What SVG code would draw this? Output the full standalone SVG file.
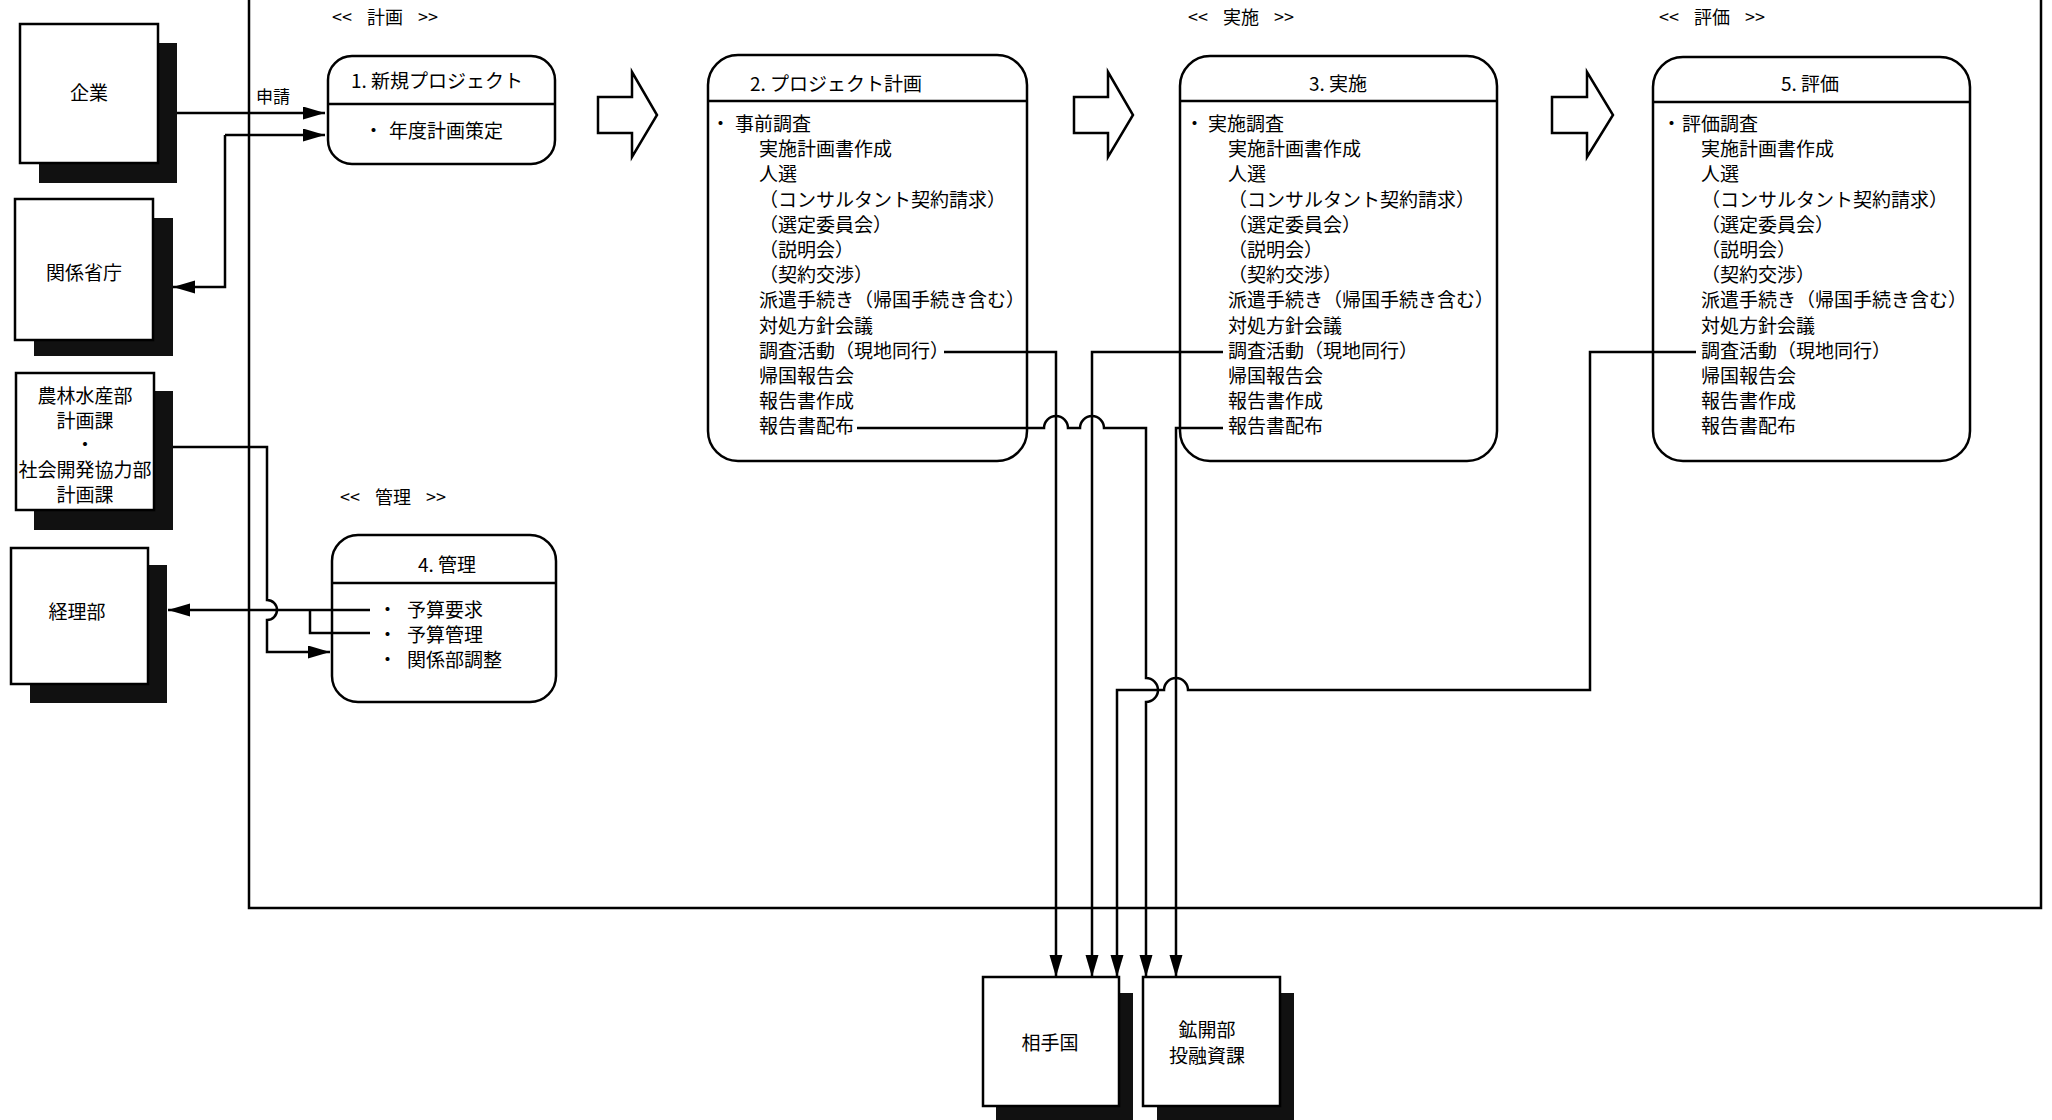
<svg xmlns="http://www.w3.org/2000/svg" width="2052" height="1120" viewBox="0 0 2052 1120">
<defs>
<style>
.t{font-family:"Noto Sans CJK JP","Noto Sans CJK SC",sans-serif;font-size:19px;fill:#000}
.h{font-family:"Noto Sans CJK JP","Noto Sans CJK SC",sans-serif;font-size:18px;fill:#000;word-spacing:11px}
.m{text-anchor:middle}
.box{fill:#fff;stroke:#000;stroke-width:2.5}
.sh{fill:#111}
.ln{fill:none;stroke:#000;stroke-width:2.5}
.arr{marker-end:url(#ah)}
.blk{fill:#fff;stroke:#000;stroke-width:2.5;stroke-linejoin:miter}
</style>
<marker id="ah" markerUnits="userSpaceOnUse" markerWidth="24" markerHeight="14" refX="22" refY="6.5" orient="auto">
<path d="M0,0 L22,6.5 L0,13 z" fill="#000"/>
</marker>
</defs>
<rect width="2052" height="1120" fill="#fff"/>

<!-- frame -->
<path class="ln" d="M249,0 V908 H2041 V0" stroke-width="3"/>

<!-- headers -->
<text class="h" x="332" y="24">&lt;&lt; 計画 &gt;&gt;</text>
<text class="h" x="1188" y="24">&lt;&lt; 実施 &gt;&gt;</text>
<text class="h" x="1659" y="24">&lt;&lt; 評価 &gt;&gt;</text>
<text class="h" x="340" y="504">&lt;&lt; 管理 &gt;&gt;</text>

<!-- left nodes -->
<g id="kigyo">
<rect class="sh" x="39" y="43" width="138" height="140"/>
<rect class="box" x="20" y="24" width="138" height="139"/>
<text class="t m" x="89" y="100">企業</text>
</g>
<g id="kankei">
<rect class="sh" x="34" y="218" width="139" height="138"/>
<rect class="box" x="15" y="199" width="138" height="141"/>
<text class="t m" x="84" y="280">関係省庁</text>
</g>
<g id="norin">
<rect class="sh" x="34" y="391" width="139" height="139"/>
<rect class="box" x="16" y="373" width="138" height="137"/>
<text class="t m" x="85" y="403">農林水産部</text>
<text class="t m" x="85" y="428">計画課</text>
<text class="t m" x="85" y="452">・</text>
<text class="t m" x="85" y="477">社会開発協力部</text>
<text class="t m" x="85" y="502">計画課</text>
</g>
<g id="keiri">
<rect class="sh" x="30" y="565" width="137" height="138"/>
<rect class="box" x="11" y="548" width="137" height="136"/>
<text class="t m" x="77" y="619">経理部</text>
</g>

<!-- bottom nodes -->
<g id="aitekoku">
<rect class="sh" x="996" y="993" width="137" height="140"/>
<rect class="box" x="983" y="977" width="136" height="129"/>
<text class="t m" x="1050" y="1050">相手国</text>
</g>
<g id="kokaibu">
<rect class="sh" x="1157" y="993" width="137" height="140"/>
<rect class="box" x="1143" y="977" width="137" height="129"/>
<text class="t m" x="1207" y="1037">鉱開部</text>
<text class="t m" x="1207" y="1063">投融資課</text>
</g>

<!-- block arrows -->
<g id="flow-arrows">
<polygon class="blk" points="598,97 632,97 632,72 657,115 632,157 632,133 598,133"/>
<polygon class="blk" points="1074,97 1108,97 1108,72 1133,115 1108,157 1108,133 1074,133"/>
<polygon class="blk" points="1552,97 1587,97 1587,72 1613,115 1587,157 1587,133 1552,133"/>
</g>

<!-- box 1 -->
<g id="box1">
<rect class="box" x="328" y="56" width="227" height="108" rx="24"/>
<line class="ln" x1="328" y1="104" x2="555" y2="104"/>
<text class="t" x="351" y="88">1. 新規プロジェクト</text>
<text class="t"><tspan x="364" y="138">・</tspan><tspan x="389" y="138">年度計画策定</tspan></text>
</g>

<!-- box 2 -->
<g id="box2">
<rect class="box" x="708" y="55" width="319" height="406" rx="30"/>
<line class="ln" x1="708" y1="101" x2="1027" y2="101"/>
<text class="t" x="750" y="91">2. プロジェクト計画</text>
<text class="t"><tspan x="711" y="131">・</tspan><tspan x="735" y="131">事前調査</tspan></text>
<text class="t" x="759" y="156.2">実施計画書作成</text>
<text class="t" x="759" y="181.4">人選</text>
<text class="t" x="759" y="206.6">（コンサルタント契約請求）</text>
<text class="t" x="759" y="231.8">（選定委員会）</text>
<text class="t" x="759" y="257">（説明会）</text>
<text class="t" x="759" y="282.2">（契約交渉）</text>
<text class="t" x="759" y="307.4">派遣手続き（帰国手続き含む）</text>
<text class="t" x="759" y="332.6">対処方針会議</text>
<text class="t" x="759" y="357.8">調査活動（現地同行）</text>
<text class="t" x="759" y="383">帰国報告会</text>
<text class="t" x="759" y="408.2">報告書作成</text>
<text class="t" x="759" y="433.4">報告書配布</text>
</g>

<!-- box 3 -->
<g id="box3">
<rect class="box" x="1180" y="56" width="317" height="405" rx="30"/>
<line class="ln" x1="1180" y1="101" x2="1497" y2="101"/>
<text class="t m" x="1338" y="91">3. 実施</text>
<text class="t"><tspan x="1185" y="131">・</tspan><tspan x="1208" y="131">実施調査</tspan></text>
<text class="t" x="1228" y="156.2">実施計画書作成</text>
<text class="t" x="1228" y="181.4">人選</text>
<text class="t" x="1228" y="206.6">（コンサルタント契約請求）</text>
<text class="t" x="1228" y="231.8">（選定委員会）</text>
<text class="t" x="1228" y="257">（説明会）</text>
<text class="t" x="1228" y="282.2">（契約交渉）</text>
<text class="t" x="1228" y="307.4">派遣手続き（帰国手続き含む）</text>
<text class="t" x="1228" y="332.6">対処方針会議</text>
<text class="t" x="1228" y="357.8">調査活動（現地同行）</text>
<text class="t" x="1228" y="383">帰国報告会</text>
<text class="t" x="1228" y="408.2">報告書作成</text>
<text class="t" x="1228" y="433.4">報告書配布</text>
</g>

<!-- box 5 -->
<g id="box5">
<rect class="box" x="1653" y="57" width="317" height="404" rx="30"/>
<line class="ln" x1="1653" y1="102" x2="1970" y2="102"/>
<text class="t m" x="1810" y="91">5. 評価</text>
<text class="t"><tspan x="1662" y="131">・</tspan><tspan x="1682" y="131">評価調査</tspan></text>
<text class="t" x="1701" y="156.2">実施計画書作成</text>
<text class="t" x="1701" y="181.4">人選</text>
<text class="t" x="1701" y="206.6">（コンサルタント契約請求）</text>
<text class="t" x="1701" y="231.8">（選定委員会）</text>
<text class="t" x="1701" y="257">（説明会）</text>
<text class="t" x="1701" y="282.2">（契約交渉）</text>
<text class="t" x="1701" y="307.4">派遣手続き（帰国手続き含む）</text>
<text class="t" x="1701" y="332.6">対処方針会議</text>
<text class="t" x="1701" y="357.8">調査活動（現地同行）</text>
<text class="t" x="1701" y="383">帰国報告会</text>
<text class="t" x="1701" y="408.2">報告書作成</text>
<text class="t" x="1701" y="433.4">報告書配布</text>
</g>

<!-- box 4 -->
<g id="box4">
<rect class="box" x="332" y="535" width="224" height="167" rx="26"/>
<line class="ln" x1="332" y1="583" x2="556" y2="583"/>
<text class="t m" x="447" y="572">4. 管理</text>
<text class="t"><tspan x="378" y="617">・</tspan><tspan x="407" y="617">予算要求</tspan></text>
<text class="t"><tspan x="378" y="642">・</tspan><tspan x="407" y="642">予算管理</tspan></text>
<text class="t"><tspan x="378" y="667">・</tspan><tspan x="407" y="667">関係部調整</tspan></text>
</g>

<!-- connectors -->
<g id="connectors">
<path class="ln arr" d="M177,113 H325"/>
<text class="t" x="256" y="103" style="font-size:17px">申請</text>
<path class="ln arr" d="M225,135 H325"/>
<path class="ln arr" d="M225,135 V287 H173"/>
<path class="ln arr" d="M173,447 H267 V600 A10,10 0 0 1 267,620 V652 H330"/>
<path class="ln arr" d="M370,610 H168"/>
<path class="ln" d="M370,633 H310 V610"/>
<path class="ln arr" d="M944,352 H1056 V977"/>
<path class="ln arr" d="M1223,352 H1092 V977"/>
<path class="ln arr" d="M857,428 H1044 A12,12 0 0 1 1068,428 H1080 A12,12 0 0 1 1104,428 H1146 V678 A12,12 0 0 1 1146,702 V977"/>
<path class="ln arr" d="M1223,428 H1176 V977"/>
<path class="ln arr" d="M1696,352 H1590 V690 H1188 A12,12 0 0 0 1164,690 H1117 V977"/>
</g>
</svg>
